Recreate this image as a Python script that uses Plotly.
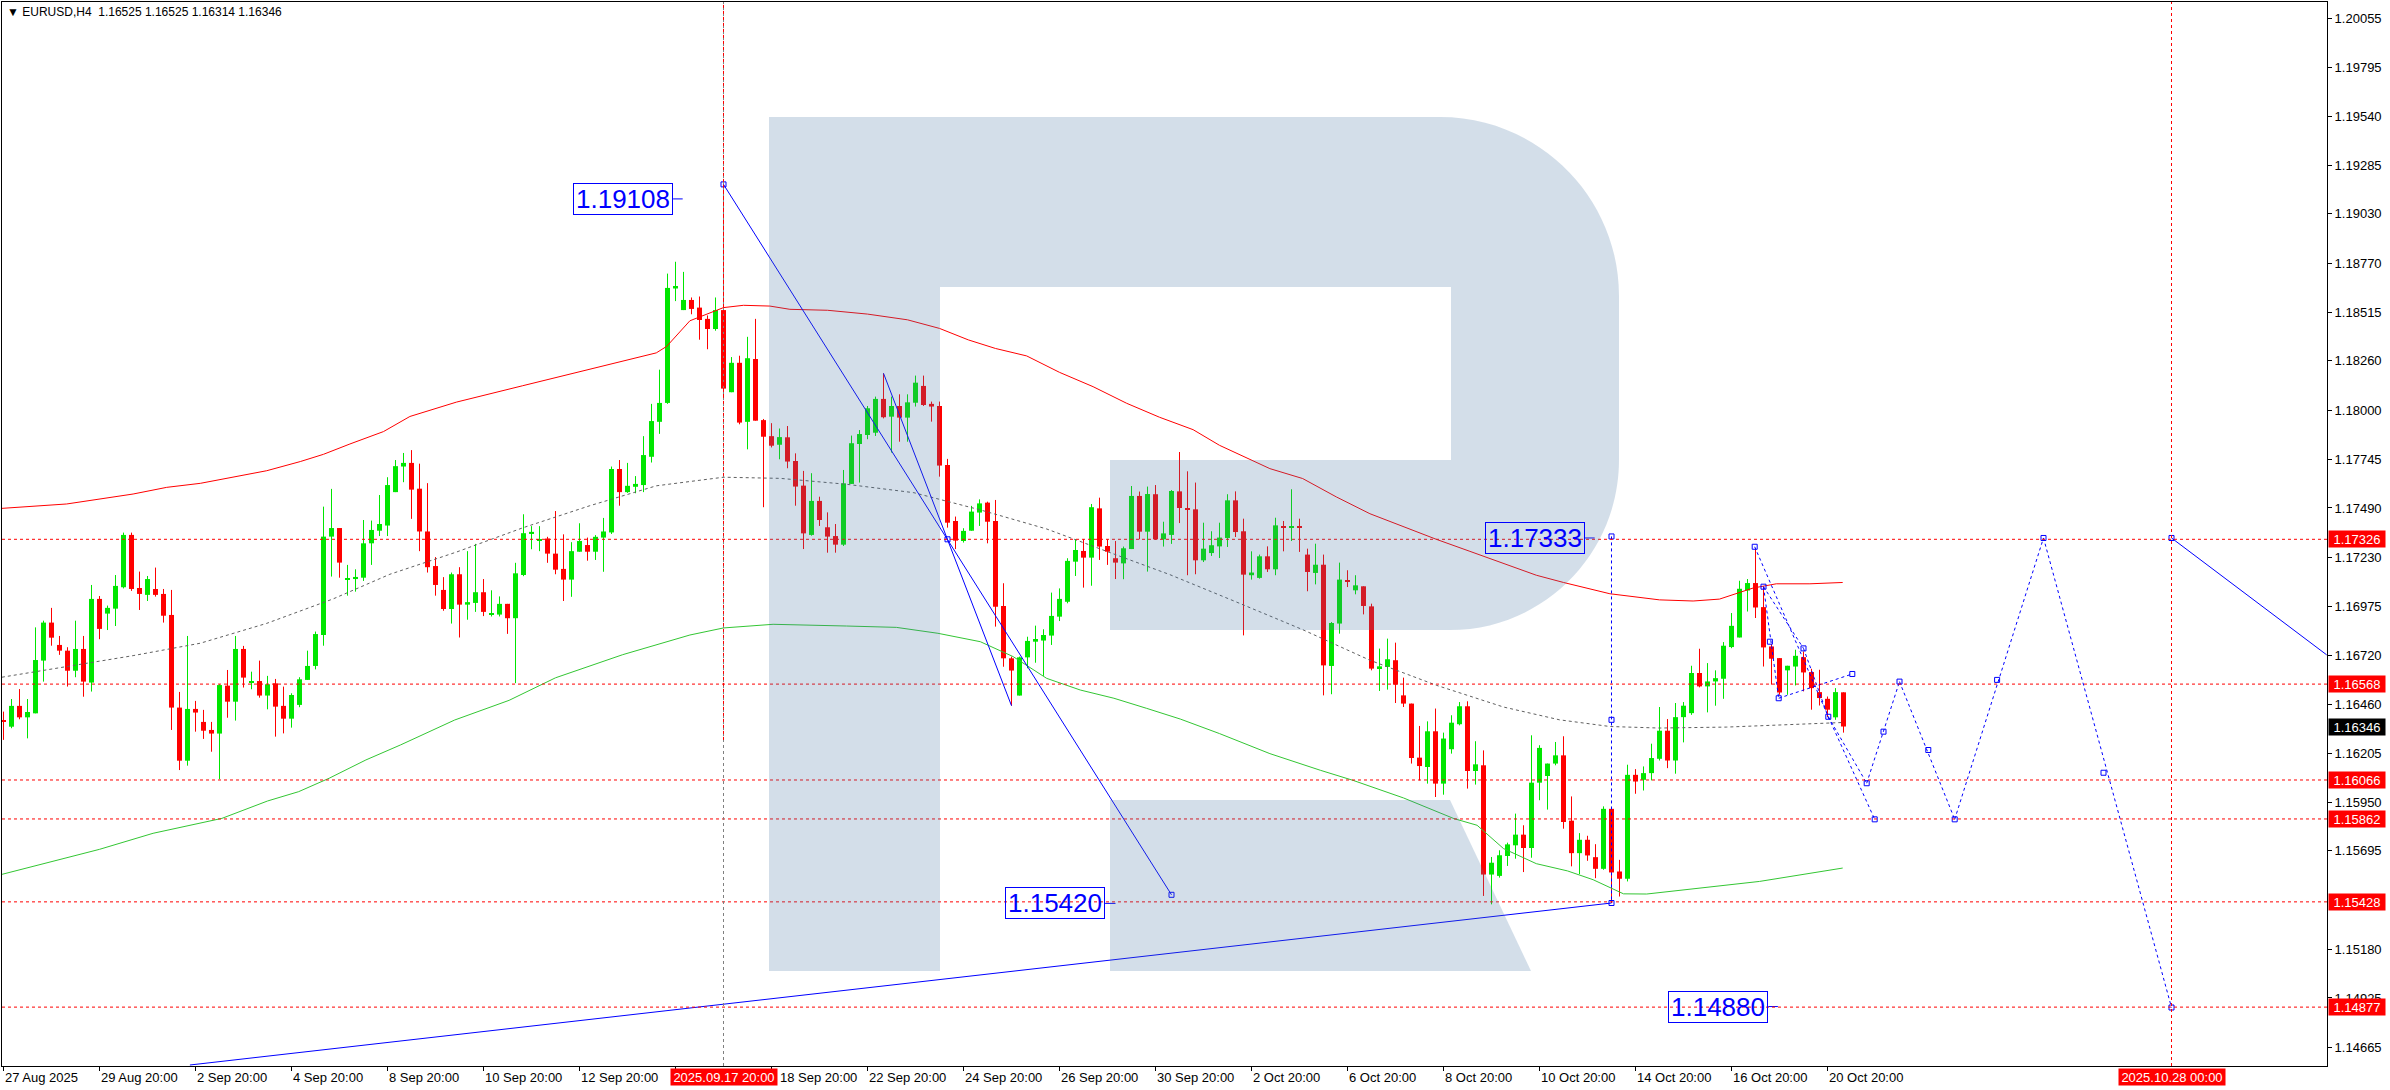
import plotly.graph_objects as go

# ---------------- data (EURUSD H4, bar index 0 = 27 Aug 2025 20:00) ----------------
bar_open = [
    1.16380, 1.16345, 1.16454, 1.16394, 1.16415, 1.16691, 1.16890, 1.16773, 1.16743, 1.16638,
    1.16752, 1.16576, 1.17014, 1.16937, 1.16963, 1.17075, 1.17349, 1.17071, 1.17035, 1.17066,
    1.17040, 1.16930, 1.16445, 1.16167, 1.16438, 1.16370, 1.16328, 1.16309, 1.16560, 1.16476,
    1.16752, 1.16576, 1.16584, 1.16508, 1.16572, 1.16454, 1.16387, 1.16459, 1.16590, 1.16663,
    1.16825, 1.17340, 1.17385, 1.17118, 1.17118, 1.17125, 1.17305, 1.17371, 1.17398, 1.17573,
    1.17707, 1.17726, 1.17591, 1.17367, 1.17186, 1.17061, 1.16961, 1.17143, 1.16984, 1.16993,
    1.17049, 1.16932, 1.16932, 1.16988, 1.16913, 1.17139, 1.17354, 1.17319, 1.17330, 1.17251,
    1.17171, 1.17115, 1.17261, 1.17296, 1.17261, 1.17335, 1.17362, 1.17694, 1.17573, 1.17601,
    1.17610, 1.17758, 1.17941, 1.18040, 1.18639, 1.18526, 1.18579, 1.18539, 1.18480, 1.18427,
    1.18526, 1.18096, 1.18250, 1.17941, 1.18270, 1.17950, 1.17866, 1.17821, 1.17860, 1.17736,
    1.17607, 1.17349, 1.17527, 1.17389, 1.17343, 1.17298, 1.17616, 1.17825, 1.17872, 1.17884,
    1.18061, 1.17968, 1.18024, 1.17963, 1.18041, 1.18129, 1.18035, 1.18024, 1.17715, 1.17422,
    1.17317, 1.17371, 1.17466, 1.17518, 1.17422, 1.16977, 1.16703, 1.16508, 1.16708, 1.16790,
    1.16796, 1.16822, 1.16921, 1.16999, 1.17209, 1.17265, 1.17230, 1.17488, 1.17291, 1.17227,
    1.17200, 1.17275, 1.17553, 1.17366, 1.17562, 1.17326, 1.17349, 1.17577, 1.17487, 1.17483,
    1.17216, 1.17254, 1.17289, 1.17333, 1.17530, 1.17368, 1.17138, 1.17124, 1.17237, 1.17169,
    1.17394, 1.17387, 1.17394, 1.17246, 1.17150, 1.17193, 1.16663, 1.16885, 1.17111, 1.17059,
    1.17080, 1.16975, 1.16652, 1.16658, 1.16693, 1.16509, 1.16466, 1.16183, 1.16134, 1.16321,
    1.16047, 1.16227, 1.16358, 1.16452, 1.16113, 1.16143, 1.15571, 1.15564, 1.15668, 1.15724,
    1.15780, 1.15710, 1.16052, 1.16087, 1.16152, 1.16195, 1.15853, 1.15683, 1.15753, 1.15662,
    1.15601, 1.15915, 1.15587, 1.15549, 1.16093, 1.16067, 1.16102, 1.16177, 1.16324, 1.16168,
    1.16395, 1.16416, 1.16626, 1.16556, 1.16582, 1.16596, 1.16762, 1.16812, 1.17058, 1.17097,
    1.16971, 1.16765, 1.16704, 1.16640, 1.16660, 1.16709, 1.16631, 1.16526, 1.16491, 1.16394,
    1.16525,
]
bar_high = [
    1.16424, 1.16490, 1.16542, 1.16490, 1.16865, 1.16900, 1.16967, 1.16820, 1.16761, 1.16900,
    1.16820, 1.17087, 1.17029, 1.16979, 1.17139, 1.17361, 1.17361, 1.17157, 1.17134, 1.17178,
    1.17066, 1.17061, 1.16527, 1.16820, 1.16480, 1.16433, 1.16370, 1.16567, 1.16642, 1.16820,
    1.16768, 1.16633, 1.16691, 1.16611, 1.16595, 1.16555, 1.16520, 1.16604, 1.16743, 1.16843,
    1.17497, 1.17590, 1.17385, 1.17192, 1.17169, 1.17427, 1.17424, 1.17558, 1.17651, 1.17741,
    1.17778, 1.17793, 1.17722, 1.17620, 1.17233, 1.17128, 1.17152, 1.17180, 1.17264, 1.17302,
    1.17118, 1.17059, 1.17027, 1.16988, 1.17203, 1.17457, 1.17395, 1.17395, 1.17339, 1.17474,
    1.17352, 1.17311, 1.17410, 1.17335, 1.17348, 1.17438, 1.17707, 1.17741, 1.17726, 1.17657,
    1.17866, 1.18035, 1.18214, 1.18717, 1.18779, 1.18726, 1.18592, 1.18597, 1.18498, 1.18592,
    1.19184, 1.18280, 1.18287, 1.18386, 1.18480, 1.17956, 1.17934, 1.17906, 1.17919, 1.17776,
    1.17684, 1.17672, 1.17549, 1.17467, 1.17406, 1.17689, 1.17869, 1.17898, 1.18024, 1.18073,
    1.18195, 1.18073, 1.18085, 1.18085, 1.18183, 1.18183, 1.18047, 1.18047, 1.17747, 1.17445,
    1.17384, 1.17501, 1.17535, 1.17523, 1.17532, 1.17096, 1.16712, 1.16712, 1.16816, 1.16874,
    1.16855, 1.17047, 1.17069, 1.17227, 1.17326, 1.17326, 1.17511, 1.17544, 1.17326, 1.17317,
    1.17288, 1.17605, 1.17576, 1.17602, 1.17610, 1.17418, 1.17584, 1.17783, 1.17682, 1.17623,
    1.17413, 1.17368, 1.17413, 1.17562, 1.17577, 1.17434, 1.17263, 1.17246, 1.17289, 1.17439,
    1.17422, 1.17588, 1.17434, 1.17277, 1.17303, 1.17246, 1.16893, 1.17204, 1.17164, 1.17138,
    1.17080, 1.16989, 1.16754, 1.16806, 1.16785, 1.16602, 1.16466, 1.16349, 1.16373, 1.16440,
    1.16314, 1.16405, 1.16474, 1.16478, 1.16269, 1.16221, 1.15663, 1.15698, 1.15738, 1.15890,
    1.15829, 1.16300, 1.16248, 1.16152, 1.16265, 1.16295, 1.15980, 1.15788, 1.15774, 1.15730,
    1.15928, 1.15924, 1.15648, 1.16146, 1.16123, 1.16137, 1.16256, 1.16448, 1.16385, 1.16469,
    1.16474, 1.16664, 1.16753, 1.16678, 1.16640, 1.16788, 1.16940, 1.17109, 1.17118, 1.17275,
    1.17079, 1.16777, 1.16704, 1.16664, 1.16748, 1.16739, 1.16648, 1.16643, 1.16503, 1.16547,
    1.16525,
]
bar_low = [
    1.16276, 1.16337, 1.16384, 1.16284, 1.16415, 1.16581, 1.16769, 1.16721, 1.16555, 1.16604,
    1.16502, 1.16529, 1.16803, 1.16851, 1.16872, 1.17069, 1.17056, 1.16956, 1.17003, 1.17026,
    1.16890, 1.16328, 1.16118, 1.16141, 1.16319, 1.16281, 1.16214, 1.16070, 1.16392, 1.16377,
    1.16550, 1.16541, 1.16497, 1.16436, 1.16293, 1.16310, 1.16340, 1.16447, 1.16590, 1.16645,
    1.16769, 1.17131, 1.17125, 1.17031, 1.17052, 1.17108, 1.17192, 1.17343, 1.17343, 1.17573,
    1.17625, 1.17433, 1.17264, 1.17152, 1.17031, 1.16952, 1.16885, 1.16812, 1.16905, 1.16946,
    1.16924, 1.16922, 1.16922, 1.16831, 1.16573, 1.17133, 1.17274, 1.17264, 1.17203, 1.17143,
    1.17003, 1.17025, 1.17261, 1.17214, 1.17218, 1.17156, 1.17354, 1.17502, 1.17569, 1.17567,
    1.17573, 1.17728, 1.17878, 1.18035, 1.18573, 1.18526, 1.18504, 1.18371, 1.18321, 1.18418,
    1.18074, 1.18096, 1.17928, 1.17797, 1.17947, 1.17494, 1.17807, 1.17745, 1.17698, 1.17502,
    1.17275, 1.17345, 1.17396, 1.17256, 1.17256, 1.17291, 1.17616, 1.17623, 1.17850, 1.17867,
    1.17959, 1.17780, 1.17837, 1.17837, 1.18021, 1.18024, 1.17942, 1.17654, 1.17387, 1.17275,
    1.17309, 1.17371, 1.17396, 1.17305, 1.16869, 1.16659, 1.16455, 1.16508, 1.16651, 1.16680,
    1.16611, 1.16773, 1.16898, 1.16991, 1.17134, 1.17073, 1.17083, 1.17218, 1.17192, 1.17118,
    1.17117, 1.17275, 1.17326, 1.17157, 1.17323, 1.17288, 1.17302, 1.17411, 1.17138, 1.17143,
    1.17207, 1.17239, 1.17228, 1.17286, 1.17338, 1.16823, 1.17115, 1.17120, 1.17155, 1.17138,
    1.17263, 1.17317, 1.17260, 1.17054, 1.17090, 1.16509, 1.16515, 1.16832, 1.17076, 1.17038,
    1.16933, 1.16640, 1.16532, 1.16539, 1.16469, 1.16448, 1.16152, 1.16064, 1.16047, 1.15977,
    1.15989, 1.16204, 1.16352, 1.16021, 1.16042, 1.15459, 1.15415, 1.15555, 1.15616, 1.15654,
    1.15584, 1.15659, 1.15960, 1.15911, 1.16143, 1.15811, 1.15614, 1.15573, 1.15643, 1.15552,
    1.15596, 1.15422, 1.15456, 1.15535, 1.15994, 1.16011, 1.16064, 1.16168, 1.16128, 1.16099,
    1.16263, 1.16407, 1.16551, 1.16420, 1.16455, 1.16491, 1.16756, 1.16812, 1.16948, 1.16914,
    1.16660, 1.16565, 1.16512, 1.16512, 1.16561, 1.16530, 1.16434, 1.16456, 1.16395, 1.16381,
    1.16314,
]
bar_close = [
    1.16372, 1.16454, 1.16394, 1.16422, 1.16694, 1.16890, 1.16811, 1.16743, 1.16638, 1.16752,
    1.16581, 1.17014, 1.16857, 1.16967, 1.17082, 1.17349, 1.17066, 1.17040, 1.17118, 1.17035,
    1.16926, 1.16445, 1.16167, 1.16438, 1.16419, 1.16324, 1.16309, 1.16563, 1.16476, 1.16752,
    1.16602, 1.16584, 1.16508, 1.16567, 1.16450, 1.16387, 1.16511, 1.16593, 1.16663, 1.16830,
    1.17340, 1.17385, 1.17204, 1.17122, 1.17129, 1.17305, 1.17375, 1.17406, 1.17610, 1.17709,
    1.17726, 1.17586, 1.17367, 1.17180, 1.17087, 1.16961, 1.17143, 1.16984, 1.16997, 1.17049,
    1.16946, 1.16935, 1.16988, 1.16913, 1.17148, 1.17358, 1.17365, 1.17326, 1.17251, 1.17167,
    1.17115, 1.17264, 1.17317, 1.17261, 1.17339, 1.17367, 1.17694, 1.17573, 1.17606, 1.17616,
    1.17767, 1.17945, 1.18040, 1.18642, 1.18652, 1.18579, 1.18532, 1.18474, 1.18427, 1.18526,
    1.18115, 1.18250, 1.17937, 1.18274, 1.17947, 1.17863, 1.17816, 1.17861, 1.17733, 1.17602,
    1.17357, 1.17527, 1.17427, 1.17340, 1.17298, 1.17619, 1.17829, 1.17877, 1.18012, 1.18061,
    1.17965, 1.18024, 1.17963, 1.18043, 1.18146, 1.18029, 1.18021, 1.17712, 1.17413, 1.17319,
    1.17370, 1.17471, 1.17514, 1.17418, 1.16973, 1.16703, 1.16639, 1.16708, 1.16794, 1.16804,
    1.16825, 1.16925, 1.17014, 1.17213, 1.17270, 1.17230, 1.17494, 1.17288, 1.17261, 1.17204,
    1.17279, 1.17553, 1.17366, 1.17563, 1.17326, 1.17357, 1.17579, 1.17490, 1.17481, 1.17216,
    1.17277, 1.17295, 1.17335, 1.17530, 1.17364, 1.17141, 1.17152, 1.17237, 1.17169, 1.17399,
    1.17387, 1.17394, 1.17387, 1.17155, 1.17193, 1.16666, 1.16888, 1.17115, 1.17103, 1.17085,
    1.16977, 1.16649, 1.16661, 1.16698, 1.16565, 1.16466, 1.16181, 1.16139, 1.16321, 1.16047,
    1.16283, 1.16366, 1.16452, 1.16113, 1.16148, 1.15571, 1.15633, 1.15672, 1.15729, 1.15780,
    1.15710, 1.16052, 1.16234, 1.16152, 1.16195, 1.15846, 1.15683, 1.15753, 1.15671, 1.15601,
    1.15915, 1.15582, 1.15549, 1.16093, 1.16058, 1.16102, 1.16181, 1.16324, 1.16168, 1.16395,
    1.16455, 1.16626, 1.16556, 1.16582, 1.16599, 1.16769, 1.16873, 1.17067, 1.17097, 1.16969,
    1.16760, 1.16701, 1.16524, 1.16664, 1.16716, 1.16629, 1.16547, 1.16495, 1.16434, 1.16526,
    1.16346,
]

# moving averages, read at sample bars
ma_red_bar = [-0.2, 7.9, 16.2, 20.4, 24.6, 28.7, 32.9, 37.1, 40, 43.3, 47.5, 50.8, 56.6, 64.9, 73.3,
              81.6, 82.9, 85.8, 90, 92.5, 95.8, 98.3, 103, 108, 113, 117, 120.6, 124, 127.9, 132,
              136.2, 140.4, 144.5, 148.7, 152, 158.3, 162.4, 166.6, 170.8, 175, 179.1, 183.3,
              187.5, 191.6, 195, 200.8, 207, 211.2, 214.5, 216.6, 218.7, 221.6, 225.8, 229.9]
ma_red_val = [1.17488, 1.17511, 1.17563, 1.17598, 1.17619, 1.17651, 1.17685, 1.17733, 1.17771,
              1.17825, 1.17890, 1.17969, 1.18044, 1.18130, 1.18218, 1.18302, 1.18336, 1.18470,
              1.18539, 1.18551, 1.18547, 1.18530, 1.18525, 1.18505, 1.18475, 1.18430, 1.18370,
              1.18325, 1.18286, 1.18200, 1.18125, 1.18038, 1.17965, 1.17900, 1.17818, 1.17696,
              1.17644, 1.17548, 1.17460, 1.17391, 1.17326, 1.17263, 1.17199, 1.17138, 1.17100,
              1.17041, 1.17009, 1.17003, 1.17013, 1.17041, 1.17071, 1.17093, 1.17093, 1.17100]

ma_gray_bar = [-0.2, 7.9, 16.2, 24.6, 32.9, 41.2, 48.3, 56.6, 64.9, 73.3, 81.6, 90, 97.1, 105.4,
               113.8, 122.1, 130.4, 138.8, 145.8, 154.1, 162.4, 170.8, 179.1, 187.5, 194.5, 200.8,
               207, 215.4, 223.7, 229.9]
ma_gray_val = [1.16604, 1.16659, 1.16717, 1.16782, 1.16886, 1.17014, 1.17143, 1.17259, 1.17386,
               1.17502, 1.17606, 1.17651, 1.17645, 1.17614, 1.17570, 1.17480, 1.17380, 1.17249,
               1.17141, 1.16998, 1.16853, 1.16693, 1.16562, 1.16448, 1.16381, 1.16346, 1.16338,
               1.16343, 1.16355, 1.16367]

ma_green_bar = [-0.2, 7.2, 12, 18.7, 22.5, 27.3, 33, 36.9, 40.7, 45.3, 49.6, 56.4, 63.2, 69, 77.4,
                85.8, 90, 96.2, 105.4, 111.6, 116.8, 122.1, 126.2, 130.4, 134.6, 138.8, 142.9,
                147.1, 152, 158.3, 164.6, 168.7, 175, 181.3, 184.2, 187.5, 191.6, 195.5, 198.7,
                202.5, 205.4, 211.2, 219.5, 229.9]
ma_green_val = [1.15572, 1.15652, 1.15703, 1.15787, 1.15822, 1.15865, 1.15956, 1.16005, 1.16075,
                1.16171, 1.16249, 1.16380, 1.16483, 1.16601, 1.16722, 1.16825, 1.16862, 1.16881,
                1.16872, 1.16865, 1.16834, 1.16790, 1.16712, 1.16598, 1.16537, 1.16494, 1.16441,
                1.16385, 1.16309, 1.16204, 1.16117, 1.16064, 1.15972, 1.15864, 1.15829, 1.15707,
                1.15628, 1.15590, 1.15544, 1.15470, 1.15469, 1.15495, 1.15535, 1.15605]

# horizontal levels
level_red = [1.17326, 1.16568, 1.16066, 1.15862, 1.15428, 1.14877]
last_price = 1.16346

# vertical time markers (bar index)
vline_bars = [90, 271]
vline_texts = ["2025.09.17 20:00", "2025.10.28 00:00"]

# blue solid lines [(bar0, bar1), (price0, price1)]
solid_bars = [(90, 146), (110, 126), (23.3, 201), (271, 290.4)]
solid_prices = [(1.19184, 1.15465), (1.18195, 1.16455), (1.14574, 1.15422), (1.17333, 1.16721)]

# blue dotted lines (channel + forecast)
dot_bars = [(201, 201), (218.9, 228.1), (220.0, 221.9), (220.0, 225.0), (221.9, 231.1),
            (225.0, 228.3), (228.1, 233.9), (228.1, 232.9), (232.9, 237.0), (237.0, 243.9),
            (243.9, 255.0), (255.0, 271.0)]
dot_prices = [(1.17341, 1.15422), (1.17287, 1.16397), (1.17078, 1.16494), (1.17078, 1.16755),
              (1.16494, 1.16621), (1.16755, 1.16371), (1.16397, 1.15860), (1.16397, 1.16049),
              (1.16049, 1.16581), (1.16581, 1.15860), (1.15860, 1.17333), (1.17333, 1.14875)]

# anchor squares of the selected objects
anchor_bars = [90, 118, 146, 201, 201, 201, 218.9, 220, 220.8, 221.9, 225, 228.1, 231.1, 232.9,
               233.9, 235, 237, 240.6, 243.9, 249.2, 255, 262.5, 271, 271]
anchor_prices = [1.19184, 1.17326, 1.15465, 1.17341, 1.16381, 1.15422, 1.17287, 1.17078, 1.16790,
                 1.16494, 1.16755, 1.16397, 1.16621, 1.16049, 1.15860, 1.16319, 1.16581, 1.16223,
                 1.15860, 1.16590, 1.17333, 1.16104, 1.14875, 1.17333]

# price labels (text, level, bar of right edge of the box, bar where its tick ends)
label_texts = ["1.19108", "1.17333", "1.15420", "1.14880"]
label_prices = [1.19108, 1.17333, 1.15420, 1.14880]
label_box_right = [83.7, 197.7, 137.7, 220.6]
label_tick_end = [84.9, 198.9, 139.0, 221.8]

# axes
ytick_vals = [1.20055, 1.19795, 1.19540, 1.19285, 1.19030, 1.18770, 1.18515, 1.18260, 1.18000,
              1.17745, 1.17490, 1.17230, 1.16975, 1.16720, 1.16460, 1.16205, 1.15950, 1.15695,
              1.15180, 1.14925, 1.14665]
date_tick_bars = [0, 12, 24, 36, 48, 60, 72, 84, 96, 108, 120, 132, 144, 156, 168, 180, 192,
                  204, 216, 228]
date_tick_labels = ["27 Aug 2025", "29 Aug 20:00", "2 Sep 20:00", "4 Sep 20:00", "8 Sep 20:00",
                    "10 Sep 20:00", "12 Sep 20:00", "", "18 Sep 20:00", "22 Sep 20:00",
                    "24 Sep 20:00", "26 Sep 20:00", "30 Sep 20:00", "2 Oct 20:00", "6 Oct 20:00",
                    "8 Oct 20:00", "10 Oct 20:00", "14 Oct 20:00", "16 Oct 20:00", "20 Oct 20:00"]
header = "\u25BC&nbsp;EURUSD,H4&nbsp;&nbsp;1.16525 1.16525 1.16314 1.16346"

# ---------------- layout geometry ----------------
W, H = 2390, 1090
ML, MT, MR, MB = 2, 2, 63, 24
PW, PH = W - ML - MR, H - MT - MB
X_MIN = -0.1875
X_MAX = X_MIN + PW / 8.0
Y_MAX = 1.201388
Y_MIN = Y_MAX - PH * 5.235e-5

FONT = "Liberation Sans, Arial, sans-serif"
AX_SIZE = 13
GREEN = "#00e600"
RED = "#ff0000"
BLUE = "#0000ff"

fig = go.Figure()

# candles: wicks + bodies
n = len(bar_open)
idx = list(range(n))
up = [i for i in idx if bar_close[i] >= bar_open[i]]
dn = [i for i in idx if bar_close[i] < bar_open[i]]
for grp, col in ((up, GREEN), (dn, RED)):
    wx, wy = [], []
    for i in grp:
        wx += [i, i, None]
        wy += [bar_low[i], bar_high[i], None]
    fig.add_trace(go.Scatter(x=wx, y=wy, mode="lines", line=dict(color=col, width=1),
                             hoverinfo="skip", showlegend=False))
    min_h = 0.00005
    heights, bases = [], []
    for i in grp:
        h = abs(bar_close[i] - bar_open[i])
        lo = min(bar_close[i], bar_open[i])
        if h < min_h:
            lo -= (min_h - h) / 2
            h = min_h
        heights.append(h)
        bases.append(lo)
    fig.add_trace(go.Bar(x=grp, y=heights, base=bases, width=0.625,
                         marker=dict(color=col, line=dict(width=0)),
                         hoverinfo="skip", showlegend=False))

# moving averages
fig.add_trace(go.Scatter(x=ma_red_bar, y=ma_red_val, mode="lines",
                         line=dict(color=RED, width=1), hoverinfo="skip", showlegend=False))
fig.add_trace(go.Scatter(x=ma_gray_bar, y=ma_gray_val, mode="lines",
                         line=dict(color="#606060", width=1, dash="3px,3px"),
                         hoverinfo="skip", showlegend=False))
fig.add_trace(go.Scatter(x=ma_green_bar, y=ma_green_val, mode="lines",
                         line=dict(color="#33c633", width=1), hoverinfo="skip", showlegend=False))

# blue solid lines (+ label ticks)
sx, sy = [], []
for (b0, b1), (p0, p1) in zip(solid_bars, solid_prices):
    sx += [b0, b1, None]
    sy += [p0, p1, None]
for r, e, p in zip(label_box_right, label_tick_end, label_prices):
    sx += [r, e, None]
    sy += [p, p, None]
fig.add_trace(go.Scatter(x=sx, y=sy, mode="lines", line=dict(color=BLUE, width=1),
                         hoverinfo="skip", showlegend=False))

# blue dotted lines
dx, dy = [], []
for (b0, b1), (p0, p1) in zip(dot_bars, dot_prices):
    dx += [b0, b1, None]
    dy += [p0, p1, None]
fig.add_trace(go.Scatter(x=dx, y=dy, mode="lines",
                         line=dict(color=BLUE, width=1, dash="3px,3px"),
                         hoverinfo="skip", showlegend=False))
fig.add_trace(go.Scatter(x=anchor_bars, y=anchor_prices, mode="markers",
                         marker=dict(symbol="square-open", size=5, color=BLUE,
                                     line=dict(width=1, color=BLUE)),
                         hoverinfo="skip", showlegend=False))

# ---------------- shapes ----------------
shapes = []
for lv in level_red:
    shapes.append(dict(type="line", xref="paper", x0=0, x1=1, yref="y", y0=lv, y1=lv,
                       line=dict(color=RED, width=1, dash="3px,3px"), layer="above"))
shapes.append(dict(type="line", xref="x", x0=vline_bars[0], x1=vline_bars[0], yref="paper",
                   y0=0, y1=1, line=dict(color="#808080", width=1, dash="3px,3px"), layer="above"))
shapes.append(dict(type="line", xref="x", x0=vline_bars[0], x1=vline_bars[0], yref="y",
                   y0=1.16276, y1=Y_MAX, line=dict(color=RED, width=1, dash="3px,3px"),
                   layer="above"))
shapes.append(dict(type="line", xref="x", x0=vline_bars[1], x1=vline_bars[1], yref="paper",
                   y0=0, y1=1, line=dict(color=RED, width=1, dash="3px,3px"), layer="above"))


# watermark "R" (pixel geometry -> paper)
def px(x):
    return (x - ML) / PW


def py(y):
    return 1 - (y - MT) / PH


def path(cmds):
    out = []
    for c in cmds:
        if c[0] in ("M", "L"):
            out.append(f"{c[0]} {px(c[1]):.5f},{py(c[2]):.5f}")
        elif c[0] == "C":
            out.append("C " + " ".join(f"{px(a):.5f},{py(b):.5f}" for a, b in c[1:]))
        else:
            out.append("Z")
    return " ".join(out)


k = 0.5523
body = [("M", 769, 117), ("L", 1440, 117),
        ("C", (1440 + k * 179, 117), (1619, 296 - k * 179), (1619, 296)),
        ("L", 1619, 460),
        ("C", (1619, 460 + k * 170), (1450 + k * 169, 630), (1450, 630)),
        ("L", 1110, 630), ("L", 1110, 460), ("L", 1451, 460), ("L", 1451, 287),
        ("L", 940, 287), ("L", 940, 971), ("L", 769, 971), ("Z",)]
leg = [("M", 1110, 800), ("L", 1450, 800), ("L", 1531, 971), ("L", 1110, 971), ("Z",)]
for p in (body, leg):
    shapes.append(dict(type="path", xref="paper", yref="paper", path=path(p),
                       fillcolor="rgba(70,117,163,0.24)", line=dict(width=0), layer="above"))

# ---------------- annotations ----------------
ann = []
ann.append(dict(xref="paper", yref="paper", x=0, y=1, xanchor="left", yanchor="top",
                xshift=3, yshift=-1, text=header, showarrow=False,
                font=dict(family=FONT, size=12, color="black")))
for b, t in zip(date_tick_bars, date_tick_labels):
    if not t:
        continue
    shift = 6 if b == 96 else -1
    ann.append(dict(xref="x", yref="paper", x=b, y=0, xanchor="left", yanchor="top",
                    yshift=-2, xshift=shift, text=t, showarrow=False,
                    font=dict(family=FONT, size=AX_SIZE, color="black")))
for b, t in zip(vline_bars, vline_texts):
    ann.append(dict(xref="x", yref="paper", x=b, y=0, xanchor="center", yanchor="top",
                    yshift=-2, text=t, showarrow=False, bgcolor=RED, width=104, height=14,
                    font=dict(family=FONT, size=AX_SIZE, color="white")))
for t, p, r in zip(label_texts, label_prices, label_box_right):
    ann.append(dict(xref="x", yref="y", x=r, y=p, xanchor="right", yanchor="middle",
                    text=t, showarrow=False, bordercolor=BLUE, borderwidth=1, borderpad=0,
                    width=98, height=30,
                    font=dict(family=FONT, size=26, color=BLUE)))
for lv in level_red:
    ann.append(dict(xref="paper", yref="y", x=1, y=lv, xanchor="left", yanchor="middle",
                    xshift=1, text=f"{lv:.5f}", showarrow=False, bgcolor=RED, width=54,
                    height=14, font=dict(family=FONT, size=AX_SIZE, color="white")))
ann.append(dict(xref="paper", yref="y", x=1, y=last_price, xanchor="left", yanchor="middle",
                xshift=1, text=f"{last_price:.5f}", showarrow=False, bgcolor="black", width=54,
                height=14, font=dict(family=FONT, size=AX_SIZE, color="white")))

fig.update_layout(
    width=W, height=H,
    margin=dict(l=ML, r=MR, t=MT, b=MB, pad=0),
    paper_bgcolor="white", plot_bgcolor="white",
    showlegend=False, barmode="overlay",
    font=dict(family=FONT, size=AX_SIZE, color="black"),
    xaxis=dict(range=[X_MIN, X_MAX], showgrid=False, zeroline=False, showline=True,
               mirror=True, linecolor="black", linewidth=1, ticks="outside", ticklen=4,
               tickcolor="black", tickvals=date_tick_bars, showticklabels=False,
               fixedrange=True),
    yaxis=dict(range=[Y_MIN, Y_MAX], side="right", showgrid=False, zeroline=False,
               showline=True, mirror=True, linecolor="black", linewidth=1, ticks="outside",
               ticklen=4, tickcolor="black", tickvals=ytick_vals,
               ticktext=[f"{v:.5f}" for v in ytick_vals],
               tickfont=dict(family=FONT, size=AX_SIZE, color="black"), fixedrange=True),
    shapes=shapes, annotations=ann,
)

fig.write_html("out.html", config={"displayModeBar": False},
               post_script="document.body.style.margin='0px';"
                           "document.body.style.overflow='hidden';")
